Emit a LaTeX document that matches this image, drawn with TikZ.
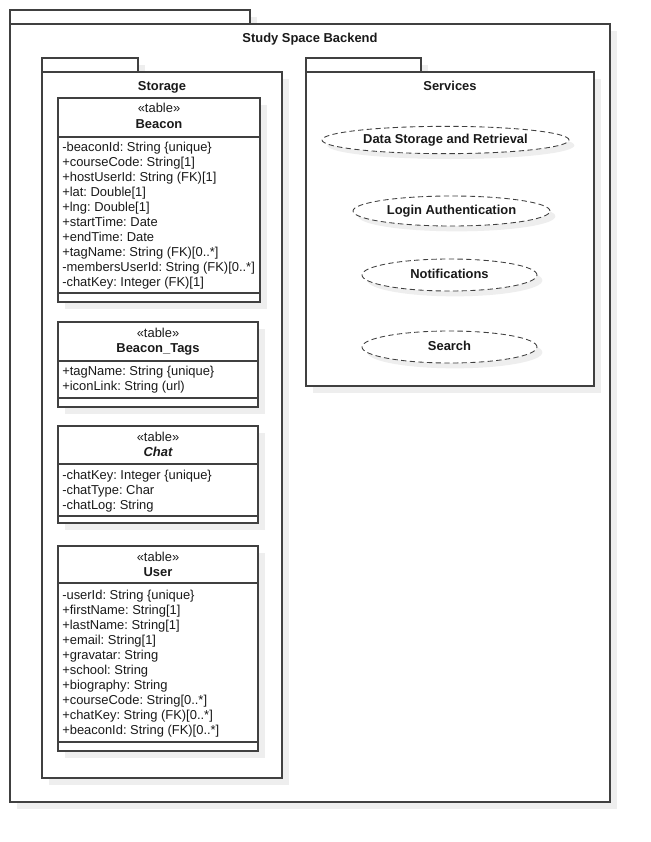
\documentclass[tikz,border=0pt]{standalone}
\usepackage{fontspec}
\setmainfont{Liberation Sans}
\usetikzlibrary{shapes.geometric,fit,shadows}
\definecolor{linec}{HTML}{404040}
\definecolor{shadowc}{HTML}{EEEEEE}
\definecolor{txtc}{HTML}{1A1A1A}
\newcommand{\dfont}{\fontsize{9.7}{11.5}\selectfont\frenchspacing}
\begin{document}
\begin{tikzpicture}[x=0.75pt,y=-0.75pt,
  shd/.style={drop shadow={shadow xshift=5pt,shadow yshift=-5pt,fill=shadowc,opacity=1}},
  pkg/.style={draw=linec,line width=1pt,fill=white,inner sep=0pt,shd},
  tbl/.style={draw=linec,line width=0.95pt,fill=white,inner sep=0pt,shd},
  sep/.style={draw=linec,line width=0.95pt},
  uc/.style={ellipse,draw=linec,line width=0.65pt,dash pattern=on 4pt off 2.5pt,fill=white,inner sep=0pt,
    text height=7pt,text depth=2pt,
    drop shadow={shadow xshift=4pt,shadow yshift=-4pt,fill=shadowc,opacity=1},font=\dfont\bfseries,text=txtc},
  ttl/.style={font=\dfont\bfseries,text=txtc,inner sep=0pt,anchor=base},
  stereo/.style={font=\dfont,text=txtc,inner sep=0pt,anchor=base},
  attr/.style={font=\dfont,text=txtc,inner sep=0pt,anchor=base west}]
\useasboundingbox[fill=white] (0,0) rectangle (650,842);

% outer package
\node[pkg,fit={(10,10) (250,24)}] (otab) {};
\node[pkg,fit={(10,24) (610,802)}] (outer) {};
\node[ttl] (otitle) at (310,42.5) {Study Space Backend};

% storage package
\node[pkg,fit={(42,58) (138,72)}] (stab) {};
\node[pkg,fit={(42,72) (282,778)}] (storage) {};
\node[ttl] (stitle) at (162,90.5) {Storage};

% services package
\node[pkg,fit={(306,58) (421,72)}] (vtab) {};
\node[pkg,fit={(306,72) (594,386)}] (services) {};
\node[ttl] (vtitle) at (450,90.5) {Services};

% use cases
\node[uc,minimum width=185.25pt,minimum height=20.5pt] (u1) at (445.5,140) {Data Storage and Retrieval};
\node[uc,minimum width=147.75pt,minimum height=22.5pt] (u2) at (451.5,211) {Login Authentication};
\node[uc,minimum width=131.25pt,minimum height=24pt] (u3) at (449.5,275) {Notifications};
\node[uc,minimum width=131.25pt,minimum height=24pt] (u4) at (449.5,347) {Search};

% Beacon table
\node[tbl,fit={(58,98) (260,302)}] (beacon) {};
\draw[sep] (58,137) -- (260,137);
\draw[sep] (58,293) -- (260,293);
\node[stereo] (bst) at (159,113) {«table»};
\node[ttl] (btt) at (159,128.5) {Beacon};
\foreach \t [count=\i] in {-beaconId: String \{unique\},+courseCode: String[1],+hostUserId: String (FK)[1],+lat: Double[1],+lng: Double[1],+startTime: Date,+endTime: Date,+tagName: String (FK)[0..*],-membersUserId: String (FK)[0..*],-chatKey: Integer (FK)[1]}
  \node[attr] (ba\i) at (62,{151.5+15*(\i-1)}) {\t};

% Beacon_Tags table
\node[tbl,fit={(58,322) (258,407)}] (tags) {};
\draw[sep] (58,361) -- (258,361);
\draw[sep] (58,398) -- (258,398);
\node[stereo] (tst) at (158,337) {«table»};
\node[ttl] (ttt) at (158,352.5) {Beacon\_Tags};
\foreach \t [count=\i] in {+tagName: String \{unique\},+iconLink: String (url)}
  \node[attr] (ta\i) at (62,{375.5+15*(\i-1)}) {\t};

% Chat table
\node[tbl,fit={(58,426) (258,523)}] (chat) {};
\draw[sep] (58,464) -- (258,464);
\draw[sep] (58,516) -- (258,516);
\node[stereo] (cst) at (158,441) {«table»};
\node[ttl,font=\dfont\bfseries\itshape] (ctt) at (158,456.5) {Chat};
\foreach \t [count=\i] in {-chatKey: Integer \{unique\},-chatType: Char,-chatLog: String}
  \node[attr] (ca\i) at (62,{479.5+15*(\i-1)}) {\t};

% User table
\node[tbl,fit={(58,546) (258,751)}] (user) {};
\draw[sep] (58,583) -- (258,583);
\draw[sep] (58,742) -- (258,742);
\node[stereo] (ust) at (158,561) {«table»};
\node[ttl] (utt) at (158,576.5) {User};
\foreach \t [count=\i] in {-userId: String \{unique\},+firstName: String[1],+lastName: String[1],+email: String[1],+gravatar: String,+school: String,+biography: String,+courseCode: String[0..*],+chatKey: String (FK)[0..*],+beaconId: String (FK)[0..*]}
  \node[attr] (ua\i) at (62,{599.5+15*(\i-1)}) {\t};
\end{tikzpicture}
\end{document}
